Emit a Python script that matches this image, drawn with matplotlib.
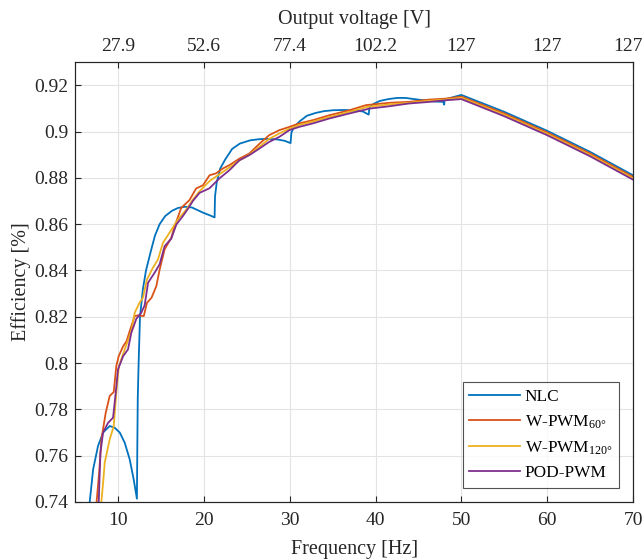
import matplotlib
matplotlib.use("Agg")
from matplotlib import pyplot as plt
from matplotlib import transforms

# NLC
x_nlc = [6.7, 7.1, 7.67, 8.26, 9.03, 9.6, 10.2, 10.78, 11.36, 11.82, 12.2,
         12.25, 12.3, 12.4, 12.56, 12.9, 13.26, 13.8, 14.3, 14.85, 15.5, 16.3,
         17.0, 17.8, 18.6, 19.3, 20.0, 20.7, 21.25,
         21.3, 21.5, 21.9, 22.5, 23.3, 24.2, 25.4, 26.5, 27.5, 28.5, 29.4, 30.1,
         30.2, 30.5, 31.2, 32.0, 33.0, 34.0, 35.1, 36.5, 37.5, 38.5, 39.2,
         39.3, 39.8, 40.5, 41.5, 42.5, 43.5, 44.5, 45.6, 46.8, 47.9, 48.0,
         48.05, 49.0, 50.0, 55.0, 60.0, 65.0, 70.0]
y_nlc = [0.740, 0.7541, 0.7642, 0.770, 0.7728, 0.7721, 0.770, 0.7656, 0.7584, 0.7498, 0.7414,
         0.765, 0.785, 0.800, 0.820, 0.832, 0.840, 0.848, 0.855, 0.860, 0.8635, 0.8658,
         0.867, 0.8675, 0.8672, 0.866, 0.8648, 0.8638, 0.8629,
         0.872, 0.878, 0.884, 0.888, 0.8925, 0.8948, 0.8962, 0.8967, 0.8968, 0.8966, 0.896, 0.895,
         0.8995, 0.902, 0.9045, 0.9068, 0.908, 0.9088, 0.9092, 0.9093, 0.909, 0.9087, 0.9073,
         0.9105, 0.912, 0.9132, 0.914, 0.9145, 0.9145, 0.914, 0.9135, 0.913, 0.9128, 0.9116,
         0.9138, 0.9148, 0.9158, 0.9085, 0.9003, 0.8912, 0.8811]

# W-PWM 60
x_w60 = [7.5, 7.8, 8.06, 8.57, 9.03, 9.5, 9.8, 10.08, 10.6, 11.0, 11.36, 11.94, 12.3, 13.0,
         13.37, 13.9, 14.46, 14.85, 15.43, 16.2, 16.6, 17.36, 18.33, 19.1, 19.9, 20.66,
         21.4, 22.2, 22.98, 24.15, 25.3, 26.5, 27.6, 28.8, 29.97, 31.1, 32.7, 34.6, 36.96,
         38.9, 41.6, 43.9, 46.3, 48.2, 50.0, 55.0, 60.0, 65.0, 70.0]
y_w60 = [0.740, 0.7527, 0.767, 0.7786, 0.7858, 0.7875, 0.7987, 0.803, 0.8073, 0.8095, 0.8138,
         0.8203, 0.8206, 0.8203, 0.826, 0.8282, 0.8332, 0.8404, 0.8491, 0.8541, 0.8591, 0.867,
         0.8704, 0.8754, 0.8768, 0.8811, 0.8819, 0.884, 0.8855, 0.8883, 0.8905, 0.8948, 0.8984,
         0.9006, 0.902, 0.9035, 0.9049, 0.907, 0.9092, 0.9114, 0.9124, 0.9128, 0.9138, 0.9142,
         0.9151, 0.9078, 0.8996, 0.8905, 0.8804]

# W-PWM 120
x_w120 = [8.06, 8.3, 8.45, 9.03, 9.5, 9.8, 10.1, 10.78, 11.55, 11.94, 12.5, 12.9, 13.37, 14.07,
          14.65, 15.23, 16.0, 16.98, 17.95, 18.72, 19.5, 20.66, 21.8, 22.98, 24.15, 25.3,
          26.5, 27.6, 28.8, 29.97, 31.1, 32.7, 34.6, 36.96, 39.0, 41.6, 43.9, 46.3, 48.2,
          50.0, 55.0, 60.0, 65.0, 70.0]
y_w120 = [0.740, 0.750, 0.757, 0.767, 0.7728, 0.7872, 0.7987, 0.8059, 0.8138, 0.8217, 0.826,
          0.8282, 0.8361, 0.8412, 0.8447, 0.8519, 0.8563, 0.862, 0.8663, 0.8706, 0.8742, 0.8786,
          0.8815, 0.8845, 0.8875, 0.890, 0.8935, 0.8968, 0.8992, 0.9012, 0.9028, 0.9043, 0.9062,
          0.9085, 0.9106, 0.9117, 0.9124, 0.9133, 0.9138, 0.9146, 0.9072, 0.899, 0.8899, 0.8798]

# POD-PWM
x_pod = [7.75, 7.95, 8.26, 8.84, 9.42, 9.73, 10.0, 10.6, 11.16, 11.55, 12.13, 12.7, 13.1, 13.5,
         14.26, 14.84, 15.43, 16.2, 16.8, 17.56, 18.14, 18.72, 19.5, 20.66, 21.8, 22.98, 24.15,
         25.3, 26.5, 27.6, 28.8, 29.97, 31.1, 32.7, 34.6, 36.96, 39.3, 41.6, 43.9, 46.3, 48.2,
         50.0, 55.0, 60.0, 65.0, 70.0]
y_pod = [0.740, 0.7613, 0.770, 0.7742, 0.7764, 0.7872, 0.7973, 0.803, 0.8059, 0.8131, 0.8191,
         0.8217, 0.8249, 0.8347, 0.839, 0.8426, 0.8505, 0.8537, 0.8599, 0.8635, 0.8666, 0.870,
         0.8735, 0.8755, 0.8797, 0.8833, 0.8876, 0.8898, 0.8927, 0.8955, 0.8977, 0.9006, 0.902,
         0.9035, 0.9056, 0.9078, 0.9099, 0.9109, 0.9121, 0.9128, 0.9135, 0.914, 0.9066, 0.8984,
         0.8893, 0.8792]

freq_ticks = [10, 20, 30, 40, 50, 60, 70]
volt_labels = ['27.9', '52.6', '77.4', '102.2', '127', '127', '127']
eff_ticks = [0.74, 0.76, 0.78, 0.8, 0.82, 0.84, 0.86, 0.88, 0.9, 0.92]
eff_labels = ['0.74', '0.76', '0.78', '0.8', '0.82', '0.84', '0.86', '0.88', '0.9', '0.92']

plt.rcParams['font.family'] = ['Liberation Serif', 'DejaVu Serif']
plt.rcParams['mathtext.fontset'] = 'custom'
plt.rcParams['mathtext.rm'] = 'Liberation Serif'
plt.rcParams['mathtext.it'] = 'Liberation Serif:italic'

dark = '#262626'
fig = plt.figure(figsize=(6.42, 5.59), dpi=100)
ax = fig.add_axes([0.117, 0.102, 0.869, 0.787])

ax.plot(x_nlc, y_nlc, color='#0072BD', lw=1.3, label='NLC')
ax.plot(x_w60, y_w60, color='#D95319', lw=1.3, label='W-PWM$_{\\mathrm{60°}}$')
ax.plot(x_w120, y_w120, color='#EDB120', lw=1.3, label='W-PWM$_{\\mathrm{120°}}$')
ax.plot(x_pod, y_pod, color='#7E2F8E', lw=1.3, label='POD-PWM')

ax.set_xlim(5, 70)
ax.set_ylim(0.74, 0.93)
ax.set_xticks(freq_ticks)
ax.set_yticks(eff_ticks)
ax.set_yticklabels(eff_labels)
ax.grid(True, color='#e3e3e3', lw=0.8)
ax.set_axisbelow(True)
ax.tick_params(direction='in', length=4.5, width=0.8, colors=dark, labelsize=14, pad=5)
ax.tick_params(axis='x', pad=7)
for s in ax.spines.values():
    s.set_color(dark)
    s.set_linewidth(0.8)
ax.set_xlabel('Frequency [Hz]', fontsize=14.5, color=dark, labelpad=8)
ax.set_ylabel('Efficiency [%]', fontsize=14.5, color=dark, labelpad=2)

top = ax.twiny()
top.set_xlim(ax.get_xlim())
top.set_xticks(freq_ticks)
top.set_xticklabels(volt_labels)
top.tick_params(direction='in', length=4.5, width=0.8, colors=dark, labelsize=14, pad=5)
top.set_xlabel('Output voltage [V]', fontsize=14.5, color=dark, labelpad=10)
for s in top.spines.values():
    s.set_color(dark)
    s.set_linewidth(0.8)

# last top label sits against the figure edge, nudge it left so it stays whole
last = top.xaxis.get_major_ticks()[-1]
shift = transforms.ScaledTranslation(-0.055, 0, fig.dpi_scale_trans)
for lbl in (last.label1, last.label2):
    lbl.set_transform(lbl.get_transform() + shift)

leg = ax.legend(loc='lower right', fontsize=12.4, frameon=True, fancybox=False,
                edgecolor=dark, borderaxespad=0.8, handlelength=2.95, handletextpad=0.25,
                labelspacing=0.5, borderpad=0.4)
leg.get_frame().set_linewidth(0.8)

fig.savefig('out.png', dpi=100)
